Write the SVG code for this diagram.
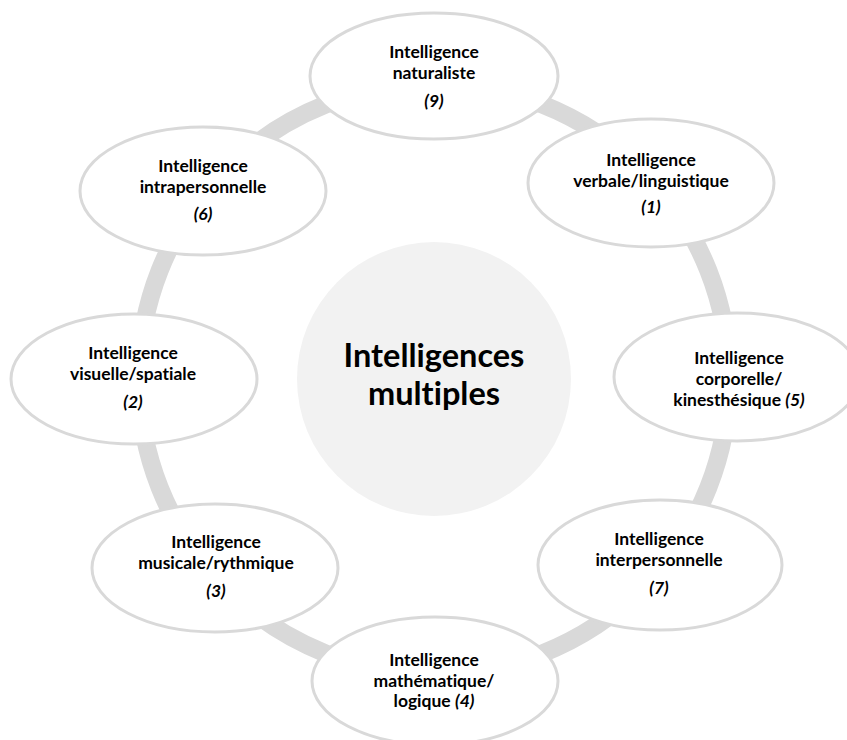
<svg xmlns="http://www.w3.org/2000/svg" width="847" height="740" viewBox="0 0 847 740">
<style>
.ring{fill:none;stroke:#d9d9d9;stroke-width:18}
.hub{fill:#f2f2f2;stroke:none}
.node ellipse{fill:#ffffff;stroke:#d9d9d9;stroke-width:3}
text{font-family:Lato,"Liberation Sans",sans-serif;font-weight:bold;fill:#000;text-anchor:middle;font-variant-ligatures:none}
.t{font-size:17.5px}
.c{font-size:32.5px}
.i{font-style:italic}
</style>
<rect width="847" height="740" fill="#ffffff"/>
<g id="connectors">
<circle class="ring" cx="434" cy="379" r="295"/>
</g>
<g id="center">
<circle class="hub" cx="434" cy="379" r="137"/>
<text class="c" x="434" y="367">Intelligences</text>
<text class="c" x="434" y="405">multiples</text>
</g>
<g id="n9" class="node">
<ellipse cx="434" cy="76" rx="124" ry="63"/>
<text class="t" x="434" y="58">Intelligence</text>
<text class="t" x="434" y="79">naturaliste</text>
<text class="t i" x="434" y="107">(9)</text>
</g>
<g id="n1" class="node">
<ellipse cx="651" cy="183" rx="123" ry="64"/>
<text class="t" x="651" y="166">Intelligence</text>
<text class="t" x="651" y="187">verbale/linguistique</text>
<text class="t i" x="651" y="213">(1)</text>
</g>
<g id="n5" class="node">
<ellipse cx="737" cy="377" rx="123" ry="64"/>
<text class="t" x="739" y="364">Intelligence</text>
<text class="t" x="739" y="385">corporelle/</text>
<text class="t" x="739" y="406">kinesthésique <tspan class="i">(5)</tspan></text>
</g>
<g id="n7" class="node">
<ellipse cx="660" cy="565" rx="122" ry="65"/>
<text class="t" x="659" y="545">Intelligence</text>
<text class="t" x="659" y="566">interpersonnelle</text>
<text class="t i" x="659" y="594">(7)</text>
</g>
<g id="n4" class="node">
<ellipse cx="435" cy="681" rx="123" ry="64"/>
<text class="t" x="434" y="666">Intelligence</text>
<text class="t" x="434" y="687">mathématique/</text>
<text class="t" x="434" y="707">logique <tspan class="i">(4)</tspan></text>
</g>
<g id="n3" class="node">
<ellipse cx="215" cy="568" rx="123" ry="64"/>
<text class="t" x="216" y="548">Intelligence</text>
<text class="t" x="216" y="569">musicale/rythmique</text>
<text class="t i" x="216" y="597">(3)</text>
</g>
<g id="n2" class="node">
<ellipse cx="134" cy="379" rx="123" ry="65"/>
<text class="t" x="133" y="359">Intelligence</text>
<text class="t" x="133" y="380">visuelle/spatiale</text>
<text class="t i" x="133" y="408">(2)</text>
</g>
<g id="n6" class="node">
<ellipse cx="203" cy="191" rx="123" ry="64"/>
<text class="t" x="203" y="172">Intelligence</text>
<text class="t" x="203" y="193">intrapersonnelle</text>
<text class="t i" x="203" y="220">(6)</text>
</g>
</svg>
